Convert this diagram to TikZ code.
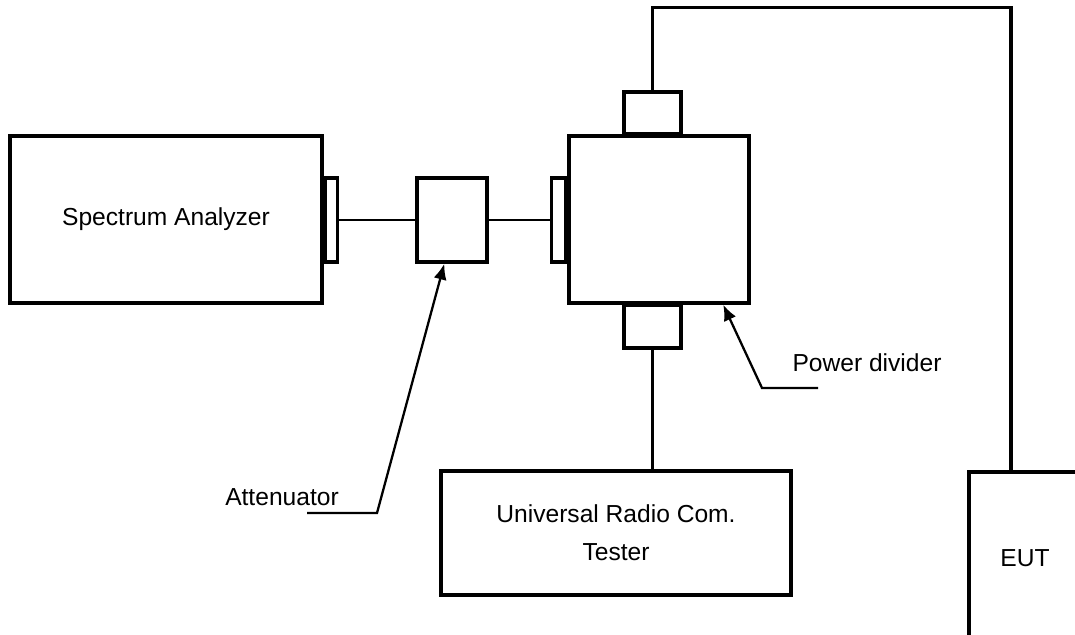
\documentclass[tikz,border=0pt]{standalone}
\usepackage{fontspec}
\setmainfont{Liberation Sans}
\usetikzlibrary{positioning,arrows.meta}

\tikzset{
  unitbox/.style={draw,line width=2pt,inner sep=0pt,align=center,
                  font=\fontsize{14}{17}\selectfont},
  portbox/.style={draw,line width=2pt,inner sep=0pt},
  cable/.style={line width=1.1pt},
  callout/.style={line width=1.3pt,-{Latex[length=9pt,width=7.5pt]}},
  lbl/.style={inner sep=0pt,font=\fontsize{14}{17}\selectfont}
}

\begin{document}
\begin{tikzpicture}[x=0.02cm,y=-0.02cm]
        \useasboundingbox (0,0) rectangle (1075,635);
        \clip (0,0) rectangle (1075,635);

        % instruments
        \node[unitbox,minimum width=6.24cm,minimum height=3.34cm] (sa) at (166,219.5)
          {Spectrum Analyzer};
        \node[portbox,minimum width=0.24cm,minimum height=1.68cm,anchor=west] (saport)
          at (sa.east |- 0,220) {};
        \node[unitbox,minimum width=1.4cm,minimum height=1.68cm] (att) at (452,220) {};
        \node[unitbox,minimum width=3.6cm,minimum height=3.34cm] (pd) at (659,219.5) {};
        \node[portbox,minimum width=0.28cm,minimum height=1.68cm,anchor=east] (pdleft)
          at (pd.west |- 0,220) {};
        \node[portbox,minimum width=1.14cm,minimum height=0.84cm,anchor=south] (pdtop)
          at (652.5,136) {};
        \node[portbox,minimum width=1.14cm,minimum height=0.86cm,anchor=north] (pdbot)
          at (652.5,303) {};
        \node[unitbox,minimum width=7cm,minimum height=2.48cm] (urct) at (616,533)
          {Universal Radio Com.\\[4.5pt]Tester};
        \node[unitbox,minimum width=2.24cm,minimum height=3.44cm] (eut) at (1025,558) {EUT};

        % cables
        \draw[cable] (saport.east) -- (att.west);
        \draw[cable] (att.east) -- (pdleft.west);
        \coordinate (eutin) at (1011,472);
        \draw[line width=1.8pt] (pdtop.north) -- ++(0,-83) -| (eutin);
        \draw[line width=1.8pt] (pdbot.south) -- (pdbot.south |- urct.north);

        % labels
        \node[lbl] (attlbl) at (282,497) {Attenuator};
        \coordinate (attfoot) at (307,513);
        \coordinate (attbend) at (377,513);
        \draw[callout] (attfoot) -- (attbend) -- (att.260);

        \node[lbl] (pdlbl) at (867,363) {Power divider};
        \coordinate (pdfoot) at (818,388);
        \coordinate (pdbend) at (762,388);
        \draw[callout] (pdfoot) -- (pdbend) -- (pd.307);
      \end{tikzpicture}
\end{document}
